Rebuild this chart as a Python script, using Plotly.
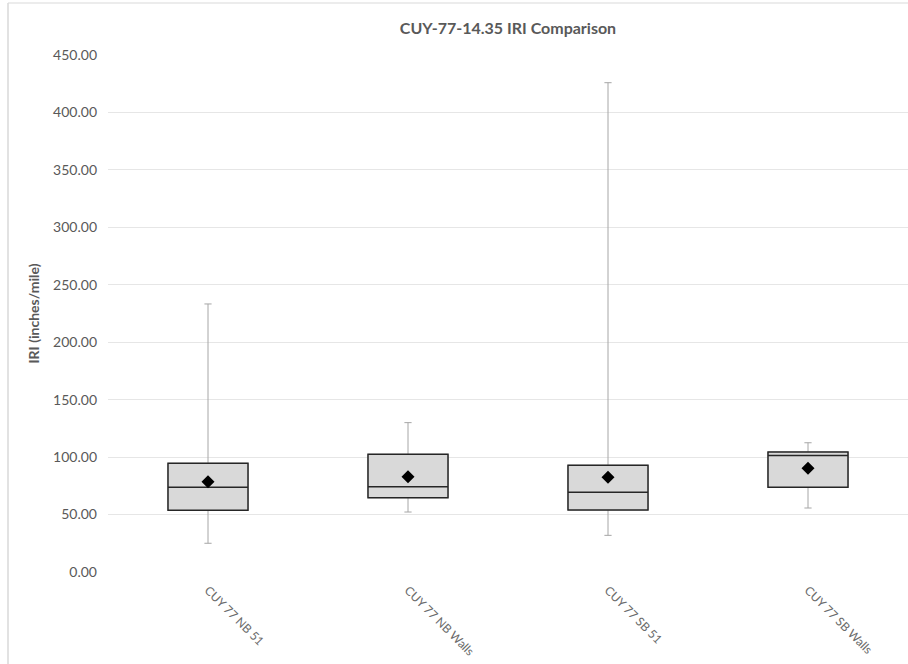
import plotly.graph_objects as go

categories = ["CUY 77 NB 51", "CUY 77 NB Walls", "CUY 77 SB 51", "CUY 77 SB Walls"]
minimum = [25.0, 52.2, 31.9, 55.7]
q1 = [53.7, 64.7, 54.0, 73.7]
median = [73.7, 74.2, 69.4, 101.5]
q3 = [94.6, 102.4, 92.9, 104.4]
maximum = [233.3, 130.0, 425.9, 112.5]
means = [78.6, 82.9, 82.4, 90.2]
y_ticks = [0, 50, 100, 150, 200, 250, 300, 350, 400, 450]

FONT = "Lato, 'Open Sans', sans-serif"
TXT = "#595959"

fig = go.Figure()

# whiskers (gray)
fig.add_trace(go.Box(
    x=categories, q1=q1, median=median, q3=q3,
    lowerfence=minimum, upperfence=maximum,
    fillcolor="#d9d9d9", line=dict(color="#a6a6a6", width=1),
    width=0.4, whiskerwidth=0.09, boxpoints=False,
    showlegend=False, hoverinfo="skip",
))
# boxes (dark outline)
fig.add_trace(go.Box(
    x=categories, q1=q1, median=median, q3=q3,
    lowerfence=q1, upperfence=q3,
    fillcolor="#d9d9d9", line=dict(color="#262626", width=1.5),
    width=0.4, whiskerwidth=0, boxpoints=False,
    showlegend=False,
))
# means
fig.add_trace(go.Scatter(
    x=categories, y=means, mode="markers",
    marker=dict(symbol="diamond", size=10, color="black"),
    showlegend=False,
))

fig.update_layout(
    width=908, height=664,
    margin=dict(l=108, r=0, t=55, b=92),
    paper_bgcolor="white", plot_bgcolor="white",
    boxmode="overlay",
    font=dict(family=FONT, color=TXT, size=13),
    title=dict(text="<b>CUY-77-14.35 IRI Comparison</b>", x=0.5, xref="paper",
               y=1 - 28 / 664, yanchor="middle", xanchor="center",
               font=dict(family=FONT, size=16, color=TXT)),
    xaxis=dict(showgrid=False, showline=False, zeroline=False, tickangle=45,
               ticks="", range=[-0.5, 3.5], ticklabelstandoff=8,
               tickfont=dict(size=12, color="#6b6b6b")),
    yaxis=dict(range=[0, 450], tickvals=y_ticks, tickformat=".2f",
               showgrid=True, gridcolor="#e6e6e6", gridwidth=1,
               zeroline=False, showline=False, ticks="",
               ticklabelstandoff=10,
               tickfont=dict(size=14, color=TXT),
               title=dict(text="<b>IRI (inches/mile)</b>", standoff=10,
                          font=dict(size=14, color=TXT))),
    shapes=[
        dict(type="line", xref="paper", yref="paper",
             x0=-100 / 800, x1=-100 / 800, y0=(572 - 3) / 517, y1=-100 / 517,
             line=dict(color="#d9d9d9", width=1.5)),
        dict(type="line", xref="paper", yref="paper",
             x0=-100 / 800, x1=1.0, y0=(572 - 3) / 517, y1=(572 - 3) / 517,
             line=dict(color="#d9d9d9", width=1)),
    ],
)

fig.write_html("out.html", config={"displayModeBar": False},
               post_script="document.body.style.margin='0';")
